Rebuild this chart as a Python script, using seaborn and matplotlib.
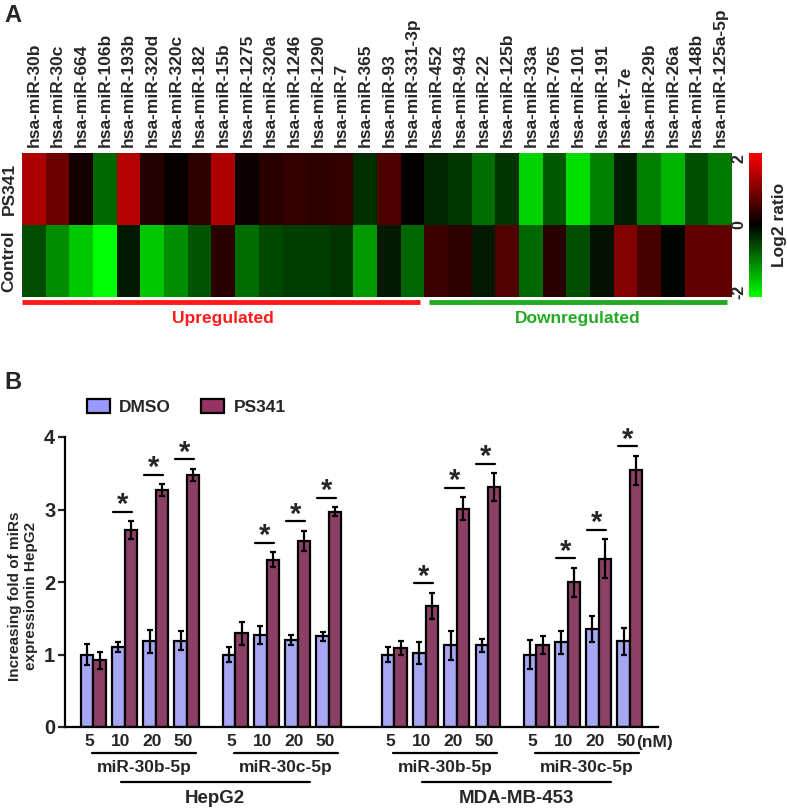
import numpy as np
import pandas as pd
import matplotlib
matplotlib.use('Agg')
import matplotlib.pyplot as plt
import matplotlib.transforms as mtransforms
from matplotlib.colors import LinearSegmentedColormap
from matplotlib.patches import Patch
import seaborn as sns

# ---- panel A data (log2 ratio) ----
mirnas = ['hsa-miR-30b', 'hsa-miR-30c', 'hsa-miR-664', 'hsa-miR-106b', 'hsa-miR-193b',
          'hsa-miR-320d', 'hsa-miR-320c', 'hsa-miR-182', 'hsa-miR-15b', 'hsa-miR-1275',
          'hsa-miR-320a', 'hsa-miR-1246', 'hsa-miR-1290', 'hsa-miR-7', 'hsa-miR-365',
          'hsa-miR-93', 'hsa-miR-331-3p', 'hsa-miR-452', 'hsa-miR-943', 'hsa-miR-22',
          'hsa-miR-125b', 'hsa-miR-33a', 'hsa-miR-765', 'hsa-miR-101', 'hsa-miR-191',
          'hsa-let-7e', 'hsa-miR-29b', 'hsa-miR-26a', 'hsa-miR-148b', 'hsa-miR-125a-5p']
ps341_log2 = [1.35, 0.85, 0.15, -0.8, 1.4, 0.28, 0.05, 0.35, 1.37, 0.1,
              0.3, 0.4, 0.35, 0.4, -0.35, 0.6, 0.03, -0.3, -0.43, -0.85,
              -0.4, -1.65, -0.7, -1.72, -1.0, -0.25, -1.0, -1.4, -0.62, -0.95]
control_log2 = [-0.6, -1.1, -1.55, -2.0, -0.2, -1.55, -1.1, -0.65, 0.3, -0.85,
                -0.55, -0.47, -0.47, -0.4, -1.2, -0.2, -0.8, 0.47, 0.35, -0.2,
                0.62, -0.8, 0.3, -0.6, -0.12, 1.0, 0.55, -0.03, 0.75, 0.75]
heat_rows = ['PS341', 'Control']
n_up = 17

# ---- panel B data ----
cell_lines = ['HepG2', 'MDA-MB-453']
mir_groups = ['miR-30b-5p', 'miR-30c-5p']
doses = ['5', '10', '20', '50']
dmso_mean = [1.00, 1.10, 1.18, 1.19, 1.00, 1.27, 1.20, 1.25,
             1.00, 1.02, 1.13, 1.13, 1.00, 1.17, 1.35, 1.18]
dmso_err = [0.15, 0.07, 0.16, 0.13, 0.11, 0.12, 0.07, 0.06,
            0.10, 0.15, 0.20, 0.09, 0.20, 0.16, 0.18, 0.18]
ps341_mean = [0.92, 2.72, 3.27, 3.48, 1.29, 2.31, 2.57, 2.97,
              1.09, 1.67, 3.01, 3.31, 1.13, 2.00, 2.32, 3.54]
ps341_err = [0.12, 0.12, 0.08, 0.08, 0.16, 0.10, 0.14, 0.06,
             0.10, 0.18, 0.16, 0.19, 0.12, 0.20, 0.27, 0.20]
significant = [False, True, True, True] * 4

treatments = ['DMSO', 'PS341']
bar_colors = {'DMSO': '#9999ff', 'PS341': '#993366'}

# positions of each dose pair (gap between mir groups, larger gap between cell lines)
positions = []
for c in range(len(cell_lines)):
    for m in range(len(mir_groups)):
        g = c * len(mir_groups) + m
        for d in range(len(doses)):
            positions.append(round(d + g * 4.55 + c * 0.55, 2))

bar_df = pd.DataFrame({
    'pos': positions * 2,
    'treatment': ['DMSO'] * 16 + ['PS341'] * 16,
    'value': dmso_mean + ps341_mean,
    'err': dmso_err + ps341_err,
})

sns.set_style('white')
plt.rcParams['font.family'] = ['Liberation Sans', 'DejaVu Sans']
plt.rcParams['font.weight'] = 'bold'
plt.rcParams['axes.labelweight'] = 'bold'

W, H = 787, 809
fig = plt.figure(figsize=(W / 100, H / 100), dpi=100)

# ---------------- panel A ----------------
ax_h = fig.add_axes([22 / W, 1 - 297 / H, 710 / W, 144 / H])
ax_c = fig.add_axes([749 / W, 1 - 297 / H, 13 / W, 144 / H])
cmap = LinearSegmentedColormap.from_list('gkr', ['#00ff00', '#000000', '#ff0000'])
heat_df = pd.DataFrame([ps341_log2, control_log2], index=heat_rows, columns=mirnas)
sns.heatmap(heat_df, ax=ax_h, cbar_ax=ax_c, cmap=cmap, vmin=-2, vmax=2,
            xticklabels=True, yticklabels=True)
ax_h.xaxis.tick_top()
ax_h.set_xticklabels(mirnas, rotation=90, fontsize=12.5, fontweight='bold')
ax_h.set_yticklabels(heat_rows, rotation=90, va='center', fontsize=12.5, fontweight='bold')
ax_h.tick_params(length=0, pad=4)
ax_h.set_xlabel('')
ax_h.set_ylabel('')

ax_c.yaxis.set_ticks_position('left')
ax_c.set_yticks([-1.85, 0, 1.85])
ax_c.set_yticklabels(['-2', '0', '2'], rotation=90, va='center', fontsize=11.5,
                     fontweight='bold')
ax_c.tick_params(length=0, pad=2)
ax_c.yaxis.set_label_position('right')
ax_c.set_ylabel('Log2 ratio', fontsize=12.5, fontweight='bold', labelpad=7)
ax_h.collections[0].colorbar.outline.set_visible(False)

# up / down brackets under heatmap
ax_h.plot([0, n_up - 0.2], [2.07, 2.07], color='#ff1a1a', lw=3.5, clip_on=False,
          solid_capstyle='butt')
ax_h.plot([n_up + 0.2, len(mirnas) - 0.2], [2.07, 2.07], color='#22aa22', lw=3.5,
          clip_on=False, solid_capstyle='butt')
ax_h.text(n_up / 2, 2.3, 'Upregulated', color='#ff1a1a', fontsize=12.5,
          fontweight='bold', ha='center', va='center')
ax_h.text((n_up + len(mirnas)) / 2, 2.3, 'Downregulated', color='#22aa22',
          fontsize=12.5, fontweight='bold', ha='center', va='center')

fig.text(4 / W, 1 - 4 / H, 'A', fontsize=17, fontweight='bold', va='top')
fig.text(4 / W, 1 - 371 / H, 'B', fontsize=17, fontweight='bold', va='top')

# ---------------- panel B ----------------
ax = fig.add_axes([65 / W, 1 - 727 / H, 593 / W, 290 / H])
sns.barplot(data=bar_df, x='pos', y='value', hue='treatment', hue_order=treatments,
            palette=bar_colors, native_scale=True, errorbar=None, width=0.8,
            edgecolor='black', linewidth=1.6, legend=False, ax=ax)

for level, container in zip(treatments, ax.containers):
    sub = bar_df[bar_df['treatment'] == level].sort_values('pos')
    bars = sorted(container.patches, key=lambda p: p.get_x())
    for bar, err in zip(bars, sub['err']):
        ax.errorbar(bar.get_x() + bar.get_width() / 2, bar.get_height(), yerr=err,
                    fmt='none', ecolor='black', elinewidth=1.6, capsize=2.5,
                    capthick=1.6, zorder=5)

# significance marks
for p, m, e, s in zip(positions, ps341_mean, ps341_err, significant):
    if not s:
        continue
    y = m + e + 0.13
    ax.plot([p - 0.37, p + 0.23], [y, y], color='black', lw=1.6, clip_on=False)
    ax.text(p - 0.07, y - 0.02, '*', fontsize=21, fontweight='bold',
            ha='center', va='baseline', clip_on=False)

ax.set_xlim(-0.91, 18.1)
ax.set_ylim(0, 4)
ax.set_yticks([0, 1, 2, 3, 4])
ax.set_yticklabels(['0', '1', '2', '3', '4'], fontsize=14.5, fontweight='bold')
ax.set_xticks([p - 0.13 for p in positions])
ax.set_xticklabels(doses * 4, fontsize=12.5, fontweight='bold')
ax.tick_params(axis='x', length=0, pad=5)
ax.tick_params(axis='y', direction='out', length=5, width=1.6, left=True, pad=2)
for side in ['top', 'right']:
    ax.spines[side].set_visible(False)
for side in ['left', 'bottom']:
    ax.spines[side].set_linewidth(1.6)
    ax.spines[side].set_color('black')
ax.set_xlabel('')
ax.set_ylabel('Increasing fold of miRs\nexpressionin HepG2', fontsize=11,
              fontweight='bold', linespacing=1.2)
ax.yaxis.set_label_coords(-0.046, 0.452)

trans = mtransforms.blended_transform_factory(ax.transData, ax.transAxes)
ax.text(positions[-1] + 0.78, -0.052, '(nM)', fontsize=12.5, fontweight='bold',
        ha='center', va='center', transform=trans)

for c, cell in enumerate(cell_lines):
    spans = []
    for m, mir in enumerate(mir_groups):
        g = c * len(mir_groups) + m
        first, last = positions[g * 4], positions[g * 4 + 3]
        x0, x1 = first - 0.05, last + 0.3
        spans.append((x0, x1))
        ax.plot([x0, x1], [-0.0897, -0.0897], color='black', lw=1.6,
                transform=trans, clip_on=False)
        ax.text((x0 + x1) / 2, -0.138, mir, fontsize=12.5, fontweight='bold',
                ha='center', va='center', transform=trans)
    mid = (spans[0][0] + spans[1][1]) / 2
    ax.plot([mid - 3.03, mid + 3.03], [-0.19, -0.19], color='black', lw=1.6,
            transform=trans, clip_on=False)
    ax.text(mid, -0.245, cell, fontsize=13.5, fontweight='bold',
            ha='center', va='center', transform=trans)

handles = [Patch(facecolor=bar_colors[t], edgecolor='black', linewidth=1.6, label=t)
           for t in treatments]
ax.legend(handles=handles, loc='center left', bbox_to_anchor=(0.037, 1.103),
          ncol=2, frameon=False, fontsize=12.5, handlelength=1.3, handleheight=0.8,
          handletextpad=0.55, columnspacing=1.75, borderpad=0, borderaxespad=0)

fig.savefig('out.png', dpi=100)
